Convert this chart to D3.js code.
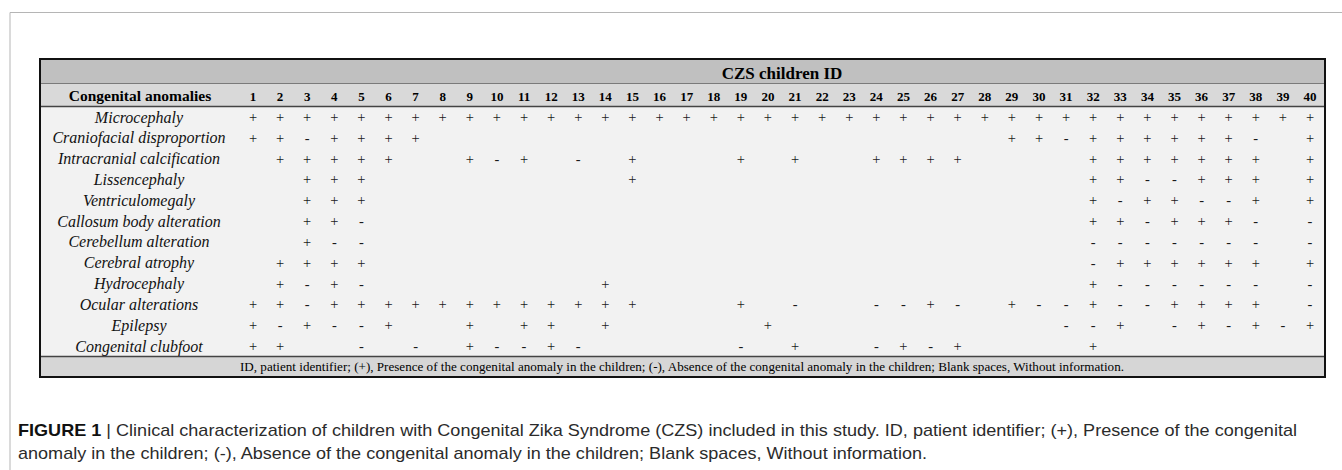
<!DOCTYPE html>
<html>
<head>
<meta charset="utf-8">
<script src="https://cdn.jsdelivr.net/npm/d3@7"></script>
<style>
  body { margin: 0; background: #fff; }
  text { font-family: "Liberation Serif", "DejaVu Serif", serif; }
  .cap { font-family: "Liberation Sans Narrow", "Liberation Sans", Arial, sans-serif; fill: #2b2b2b; }
</style>
</head>
<body>
<div id="chart"></div>
<script>
// congenital anomalies (rows)
var anomalies = [
    "Microcephaly",
    "Craniofacial disproportion",
    "Intracranial calcification",
    "Lissencephaly",
    "Ventriculomegaly",
    "Callosum body alteration",
    "Cerebellum alteration",
    "Cerebral atrophy",
    "Hydrocephaly",
    "Ocular alterations",
    "Epilepsy",
    "Congenital clubfoot"
];

// children ID 1..40
var childIds = ["1","2","3","4","5","6","7","8","9","10",
    "11","12","13","14","15","16","17","18","19","20",
    "21","22","23","24","25","26","27","28","29","30",
    "31","32","33","34","35","36","37","38","39","40"];

// one string per anomaly, 4 blocks of 10 children: + present, - absent, blank no info
var findings = [
    "++++++++++|++++++++++|++++++++++|++++++++++",
    "++-++++   |          |        ++|-++++++- +",
    " +++++  +-|+ - +   + |+  ++++   | +++++++ +",
    "  +++     |    +     |          | ++--+++ +",
    "  +++     |          |          | +-++--+ +",
    "  ++-     |          |          | ++-+++- -",
    "  +--     |          |          | ------- -",
    " ++++     |          |          | -++++++ +",
    " +-+-     |   +      |          | +------ -",
    "++-+++++++|+++++   + |-  --+- +-|-+--++++ -",
    "+-+--+  + |++ +     +|          |--+ -+-+-+",
    "++  - - +-|-+-     - |+  -+-+   | +        "
];

var headerTitle = "CZS children ID";
var rowHeader = "Congenital anomalies";
var footNote = "ID, patient identifier; (+), Presence of the congenital anomaly in the children; (-), Absence of the congenital anomaly in the children; Blank spaces, Without information.";
var captionLines = [
    ["FIGURE 1", " | Clinical characterization of children with Congenital Zika Syndrome (CZS) included in this study. ID, patient identifier; (+), Presence of the congenital"],
    ["", "anomaly in the children; (-), Absence of the congenital anomaly in the children; Blank spaces, Without information."]
];

var W = 1342, H = 470;

var svg = d3.select("#chart")
    .append("svg")
    .attr("width", W)
    .attr("height", H);

// page frame
svg.append("path")
    .attr("d", "M10,470 V12.5 H1342")
    .attr("fill", "none")
    .attr("stroke", "#b5b5b5")
    .attr("stroke-width", 1);

var table = {left: 40, right: 1325, top: 59, h1: 83, h2: 106, foot: 356, bottom: 377};

// backgrounds
svg.append("rect").attr("x", table.left).attr("y", table.top)
    .attr("width", table.right - table.left).attr("height", table.h1 - table.top)
    .attr("fill", "#c0c0c0");
svg.append("rect").attr("x", table.left).attr("y", table.h1)
    .attr("width", table.right - table.left).attr("height", table.h2 - table.h1)
    .attr("fill", "#d9d9d9");
svg.append("rect").attr("x", table.left).attr("y", table.h2)
    .attr("width", table.right - table.left).attr("height", table.foot - table.h2)
    .attr("fill", "#f2f2f2");
svg.append("rect").attr("x", table.left).attr("y", table.foot)
    .attr("width", table.right - table.left).attr("height", table.bottom - table.foot)
    .attr("fill", "#d6d6d6");

// inner rules
svg.append("line").attr("x1", table.left).attr("x2", table.right)
    .attr("y1", table.h1 + 0.5).attr("y2", table.h1 + 0.5)
    .attr("stroke", "#7a7a7a").attr("stroke-width", 1);
svg.append("line").attr("x1", table.left).attr("x2", table.right)
    .attr("y1", table.h2 + 0.5).attr("y2", table.h2 + 0.5)
    .attr("stroke", "#444").attr("stroke-width", 1.5);
svg.append("line").attr("x1", table.left).attr("x2", table.right)
    .attr("y1", table.foot + 0.5).attr("y2", table.foot + 0.5)
    .attr("stroke", "#444").attr("stroke-width", 1.5);

// outer border
svg.append("rect").attr("x", table.left).attr("y", table.top)
    .attr("width", table.right - table.left).attr("height", table.bottom - table.top)
    .attr("fill", "none").attr("stroke", "#111").attr("stroke-width", 2);

var x = d3.scalePoint()
    .domain(childIds)
    .range([253, 1310]);

var y = d3.scalePoint()
    .domain(anomalies)
    .range([117, 346]);

var labelX = 139;

// header texts
svg.append("text")
    .attr("x", 782)
    .attr("y", 73)
    .attr("text-anchor", "middle")
    .attr("dominant-baseline", "central")
    .attr("font-weight", "bold")
    .attr("font-size", 17)
    .text(headerTitle);

svg.append("text")
    .attr("x", labelX + 1)
    .attr("y", 95.5)
    .attr("text-anchor", "middle")
    .attr("dominant-baseline", "central")
    .attr("font-weight", "bold")
    .attr("font-size", 15.5)
    .text(rowHeader);

svg.selectAll(".idlab")
    .data(childIds)
    .enter()
    .append("text")
    .attr("class", "idlab")
    .attr("x", function(d) { return x(d); })
    .attr("y", 96)
    .attr("text-anchor", "middle")
    .attr("dominant-baseline", "central")
    .attr("font-weight", "bold")
    .attr("font-size", 13)
    .text(function(d) { return d; });

// row labels
svg.selectAll(".rowlab")
    .data(anomalies)
    .enter()
    .append("text")
    .attr("class", "rowlab")
    .attr("x", labelX)
    .attr("y", function(d) { return y(d); })
    .attr("text-anchor", "middle")
    .attr("dominant-baseline", "central")
    .attr("font-style", "italic")
    .attr("font-size", 16)
    .attr("fill", "#111")
    .text(function(d) { return d; });

// cells
var cells = [];
anomalies.forEach(function(a, i) {
    var s = findings[i].replace(/\|/g, "");
    childIds.forEach(function(id, j) {
        var v = s.charAt(j);
        if (v === "+" || v === "-") cells.push({anomaly: a, id: id, v: v});
    });
});

svg.selectAll(".cell")
    .data(cells)
    .enter()
    .append("text")
    .attr("class", "cell")
    .attr("x", function(d) { return x(d.id); })
    .attr("y", function(d) { return y(d.anomaly); })
    .attr("text-anchor", "middle")
    .attr("dominant-baseline", "central")
    .attr("font-size", 14.5)
    .attr("fill", "#1a1a1a")
    .text(function(d) { return d.v; });

// footnote
svg.append("text")
    .attr("x", 682)
    .attr("y", 367)
    .attr("text-anchor", "middle")
    .attr("dominant-baseline", "central")
    .attr("font-size", 12)
    .attr("textLength", 884)
    .attr("lengthAdjust", "spacingAndGlyphs")
    .text(footNote);

// caption
var capW = [1279, 909];
captionLines.forEach(function(line, i) {
    var t = svg.append("text")
        .attr("class", "cap")
        .attr("x", 18)
        .attr("y", 436 + i * 23)
        .attr("font-size", 17)
        .attr("textLength", capW[i])
        .attr("lengthAdjust", "spacingAndGlyphs");
    if (line[0]) t.append("tspan").attr("font-weight", "bold").attr("fill", "#111").text(line[0]);
    t.append("tspan").text(line[1]);
});
</script>
</body>
</html>
